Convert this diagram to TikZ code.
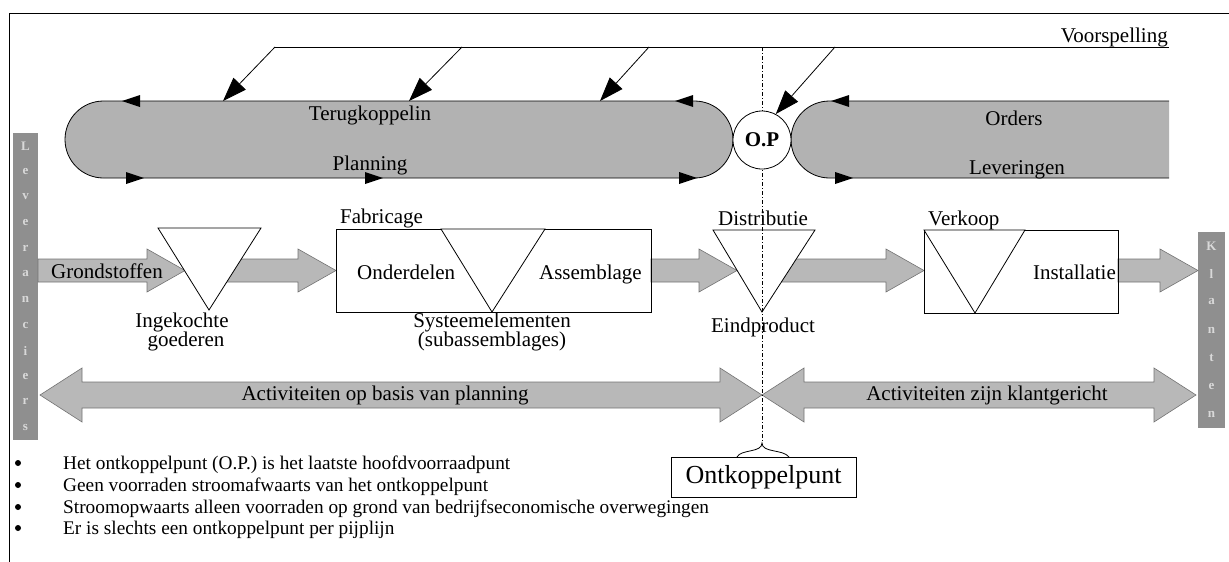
\documentclass[tikz,border=0pt]{standalone}
\usepackage{fontspec}
\setmainfont{Liberation Serif}
\usetikzlibrary{arrows.meta}
\definecolor{capsgray}{gray}{0.70}
\definecolor{arrgray}{gray}{0.72}
\definecolor{bargray}{gray}{0.56}
% block arrow of the goods flow: shaft from x=#1 to tip x=#2, centre line y=#3
\newcommand\flowarrow[3]{%
  \filldraw[blk] (#1,#3-11.5) -- (#2-38,#3-11.5) -- (#2-38,#3-21.5) -- (#2,#3)
    -- (#2-38,#3+21.5) -- (#2-38,#3+11.5) -- (#1,#3+11.5) -- cycle;}
% double headed block arrow on the activity line, tips at x=#1 and x=#2
\newcommand\dblarrow[2]{%
  \filldraw[blk] (#1,395) -- (#1+42,368) -- (#1+42,382) -- (#2-42,382) -- (#2-42,368)
    -- (#2,395) -- (#2-42,422) -- (#2-42,408) -- (#1+42,408) -- (#1+42,422) -- cycle;}
% small direction heads on the loop outlines
\newcommand\tipleft[2]{\fill (#1,#2) -- (#1+18,#2-6) -- (#1+18,#2+6) -- cycle;}
\newcommand\tipright[2]{\fill (#1,#2) -- (#1-18,#2-6) -- (#1-18,#2+6) -- cycle;}
\begin{document}
\begin{tikzpicture}[x=1pt,y=-1pt,
  lbl/.style={font=\fontsize{21}{22}\selectfont, inner sep=0pt, anchor=base},
  bul/.style={font=\fontsize{19.3}{22}\selectfont, inner sep=0pt, anchor=base west},
  dot/.style={circle, fill=black, inner sep=0pt, minimum size=6pt},
  hair/.style={draw=black, line width=0.8pt},
  blk/.style={fill=arrgray, draw=black!55, line width=0.6pt},
  tri/.style={fill=white, draw=black, line width=0.8pt},
  flow/.style={draw=black, line width=0.8pt, -{Triangle[length=24pt,width=17pt]}},
  cut/.style={draw=black, line width=0.7pt, dash pattern=on 4pt off 2pt on 1pt off 2pt},
  barletter/.style={font=\fontsize{13}{13}\selectfont\bfseries, text=white!85!black, inner sep=0pt}]
\useasboundingbox (0,0) rectangle (1229,562);

% outer frame
\coordinate (fTR) at (1229,13);
\coordinate (fTL) at (9,13);
\coordinate (fBL) at (9,562);
\draw[hair] (fTR) -- (fTL) -- (fBL);

% forecast line
\coordinate (vL) at (275,47);
\coordinate (vR) at (1169,47);
\draw[hair] (vL) -- (vR);
\node[lbl, anchor=base east] (vsp) at (1168,42) {Voorspelling};

% feedback / planning loop
\node[fill=capsgray, draw=black, line width=0.8pt, rounded corners=38.5pt,
      minimum width=668pt, minimum height=77pt, inner sep=0pt] (loopL) at (399,139.5) {};
\node[lbl] (fbT) at (370,120) {Terugkoppelin};
\node[lbl] (fbP) at (370,170) {Planning};

% orders / deliveries loop
\fill[capsgray] (1169,101) -- (829.5,101) arc[start angle=-90, end angle=-270, radius=38.5] -- (1169,178) -- cycle;
\draw[hair] (1169,101) -- (829.5,101) arc[start angle=-90, end angle=-270, radius=38.5] -- (1169,178);
\node[lbl] (ordO) at (1014,125) {Orders};
\node[lbl] (ordL) at (1017,174) {Leveringen};

% direction heads on the loops
\tipleft{122}{101}
\tipleft{675}{101}
\tipright{144}{178}
\tipright{383}{178}
\tipright{697}{178}
\tipleft{831}{101}
\tipright{853}{178}

% forecast arrows
\coordinate (d1) at (275,47);  \coordinate (e1) at (223,101);
\coordinate (d2) at (462,47);  \coordinate (e2) at (409,101);
\coordinate (d3) at (649,47);  \coordinate (e3) at (600,101);
\coordinate (d4) at (835,47);
\draw[flow] (d1) -- (e1);
\draw[flow] (d2) -- (e2);
\draw[flow] (d3) -- (e3);

% suppliers and customers bars
\node[fill=bargray, minimum width=25pt, minimum height=307pt, inner sep=0pt] (supp) at (25.5,286.5) {};
\foreach \c [count=\i] in {L,e,v,e,r,a,n,c,i,e,r,s}
  \node[barletter] (sl\i) at (25.5,133+25.6*\i-12.8) {\c};
\node[fill=bargray, minimum width=27pt, minimum height=196pt, inner sep=0pt] (cust) at (1211.5,330) {};
\foreach \c [count=\i] in {K,l,a,n,t,e,n}
  \node[barletter] (cl\i) at (1211.5,232+28*\i-14) {\c};

% goods flow
\flowarrow{38}{185}{270.5}
\flowarrow{225}{336}{270.5}
\flowarrow{651}{737}{270.5}
\flowarrow{778}{924}{270.5}
\flowarrow{1118}{1198}{270.5}

% stock points and stages
\coordinate (t1a) at (158,228); \coordinate (t1b) at (261,228); \coordinate (t1c) at (209,310);
\draw[tri] (t1a) -- (t1b) -- (t1c) -- cycle;
\node[draw=black, line width=0.8pt, minimum width=315pt, minimum height=83pt, inner sep=0pt] (fab) at (493.5,270.5) {};
\coordinate (t2a) at (441,229); \coordinate (t2b) at (545,229); \coordinate (t2c) at (492,312);
\draw[tri] (t2a) -- (t2b) -- (t2c) -- cycle;
\coordinate (t3a) at (713,230); \coordinate (t3b) at (815,230); \coordinate (t3c) at (762,312);
\draw[tri] (t3a) -- (t3b) -- (t3c) -- cycle;
\node[draw=black, line width=0.8pt, minimum width=194pt, minimum height=83pt, inner sep=0pt] (vk) at (1021,271.5) {};
\coordinate (t4a) at (924,230); \coordinate (t4b) at (1025,230); \coordinate (t4c) at (975,313);
\draw[tri] (t4a) -- (t4b) -- (t4c) -- cycle;

\node[lbl] (lgr) at (107,278) {Grondstoffen};
\node[lbl] (ling1) at (182,327) {Ingekochte};
\node[lbl] (ling2) at (186,346) {goederen};
\node[lbl, anchor=base west] (lfab) at (340,223) {Fabricage};
\node[lbl, anchor=base west] (lond) at (357,279) {Onderdelen};
\node[lbl, anchor=base east] (lass) at (642,279) {Assemblage};
\node[lbl] (lsys1) at (492,327) {Systeemelementen};
\node[lbl] (lsys2) at (492,346) {(subassemblages)};
\node[lbl] (ldis) at (763,225) {Distributie};
\node[lbl] (lend) at (763,332) {Eindproduct};
\node[lbl, anchor=base west] (lver) at (928,225) {Verkoop};
\node[lbl, anchor=base east] (lins) at (1116,279) {Installatie};

% activity arrows
\dblarrow{40}{762}
\dblarrow{762}{1196}
\node[lbl] (lplan) at (385,400) {Activiteiten op basis van planning};
\node[lbl] (lklant) at (987,400) {Activiteiten zijn klantgericht};

% decoupling point line, circle and brace
\coordinate (cutTop) at (762,47);
\coordinate (cutBot) at (762,443);
\draw[cut] (cutTop) -- (cutBot);
\node[circle, draw=black, line width=0.8pt, fill=white, minimum size=58pt, inner sep=0pt,
      font=\fontsize{21}{22}\selectfont\bfseries] (op) at (762,140) {O.P};
\draw[flow] (d4) -- (op.62);
\coordinate (brL) at (737,457);
\coordinate (brR) at (789,457);
\draw[hair] (brL) .. controls (741,449) and (762,453) .. (cutBot) .. controls (762,453) and (783,449) .. (brR);
\node[draw=black, line width=0.8pt, minimum width=185pt, minimum height=40pt, inner sep=0pt,
      font=\fontsize{26}{30}\selectfont] (okp) at (763.5,477) {Ontkoppelpunt};

% notes
\node[dot] (p1) at (18,463) {};
\node[bul] (b1) at (63,469) {Het ontkoppelpunt (O.P.) is het laatste hoofdvoorraadpunt};
\node[dot] (p2) at (18,485) {};
\node[bul] (b2) at (63,491) {Geen voorraden stroomafwaarts van het ontkoppelpunt};
\node[dot] (p3) at (18,507) {};
\node[bul] (b3) at (63,513) {Stroomopwaarts alleen voorraden op grond van bedrijfseconomische overwegingen};
\node[dot] (p4) at (18,528) {};
\node[bul] (b4) at (63,534) {Er is slechts een ontkoppelpunt per pijplijn};
\end{tikzpicture}
\end{document}
